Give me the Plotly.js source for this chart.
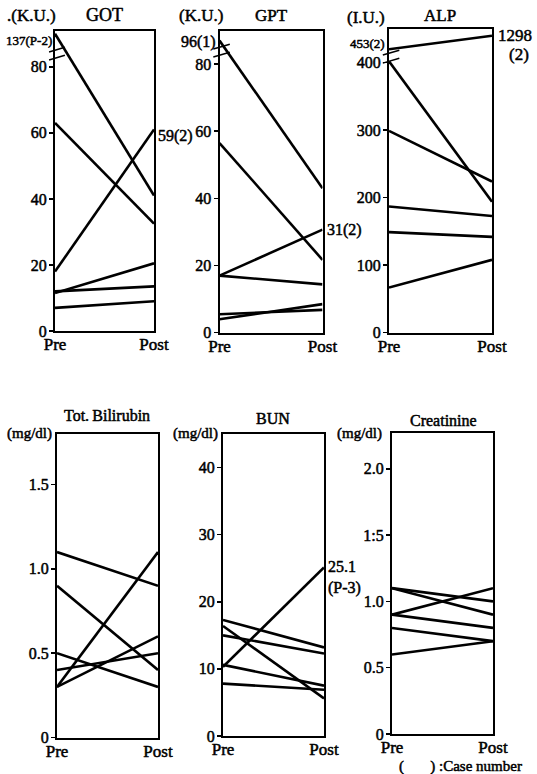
<!DOCTYPE html>
<html>
<head>
<meta charset="utf-8">
<script src="https://cdn.plot.ly/plotly-3.0.1.min.js"></script>
<style>
html,body{margin:0;padding:0;background:#fff}
#chart{width:537px;height:774px}
#chart svg text{stroke:#000;stroke-width:0.5px;stroke-linejoin:round}
</style>
</head>
<body>
<div id="chart"></div>
<script>
// ---- data ----
const stages = ["Pre", "Post"];
const gotPre  = [90, 63, 18, 11.5, 12, 7];
const gotPost = [41, 32.5, 61, 20.5, 13.5, 9];
const gptPre  = [87, 56.5, 17, 17, 5.5, 4];
const gptPost = [43, 21.7, 30.7, 14.4, 6.8, 8.5];
const alpPre  = [420, 402, 299, 187, 149, 67];
const alpPost = [440, 194, 224, 173, 142, 108];
const biliPre  = [1.1, 0.9, 0.3, 0.4, 0.5, 0.3];
const biliPost = [0.9, 0.4, 1.1, 0.5, 0.3, 0.6];
const bunPre  = [17.3, 16.4, 15, 10.3, 10.6, 7.8];
const bunPost = [13.2, 5.6, 12.3, 25.1, 7.5, 6.9];
const creatPre  = [1.1, 1.1, 0.9, 0.9, 0.8, 0.6];
const creatPost = [1.0, 0.9, 1.1, 0.8, 0.7, 0.7];

const gotTicks = [0, 20, 40, 60, 80];
const gptTicks = [0, 20, 40, 60, 80];
const alpTicks = [0, 100, 200, 300, 400];
const biliTicks = [0, 0.5, 1.0, 1.5];
const biliTickText = ["0", "0.5", "1.0", "1.5"];
const bunTicks = [0, 10, 20, 30, 40];
const creatTicks = [0, 0.5, 1.0, 1.5, 2.0];
const creatTickText = ["0", "0.5", "1.0", "1:5", "2.0"];
const breakAt = [84, 84, 409];   // axis-break marks on GOT, GPT, ALP

// ---- layout helpers ----
const W = 537, H = 774;
const px = x => x / W;
const py = y => 1 - y / H;
const FONT = "Liberation Serif";
const F = size => ({family: FONT, size: size, color: "#000"});

const panels = [
  {pre: gotPre,  post: gotPost,  range: [0, 91],   tv: gotTicks,  tt: gotTicks.map(String), xd: [55, 154],    yd: [30.5, 331]},
  {pre: gptPre,  post: gptPost,  range: [0, 90],   tv: gptTicks,  tt: gptTicks.map(String), xd: [219.5, 322.5], yd: [30.5, 332.7]},
  {pre: alpPre,  post: alpPost,  range: [0, 450],  tv: alpTicks,  tt: alpTicks.map(String), xd: [389, 492],   yd: [29, 332.7]},
  {pre: biliPre, post: biliPost, range: [0, 1.8],  tv: biliTicks, tt: biliTickText,        xd: [57, 158],    yd: [434, 737.5]},
  {pre: bunPre,  post: bunPost,  range: [0, 45],   tv: bunTicks,  tt: bunTicks.map(String), xd: [223, 324],   yd: [434, 736]},
  {pre: creatPre,post: creatPost,range: [0, 2.27], tv: creatTicks,tt: creatTickText,       xd: [392, 493],   yd: [433, 734]}
];

const data = [];
const layout = {
  width: W, height: H,
  margin: {l: 0, r: 0, t: 0, b: 0},
  paper_bgcolor: "#fff", plot_bgcolor: "#fff",
  showlegend: false,
  font: F(15),
  annotations: [],
  shapes: []
};

panels.forEach((p, i) => {
  const n = i + 1;
  const xa = "x" + (n === 1 ? "" : n), ya = "y" + (n === 1 ? "" : n);
  const xk = "xaxis" + (n === 1 ? "" : n), yk = "yaxis" + (n === 1 ? "" : n);
  p.pre.forEach((v, k) => {
    data.push({
      type: "scatter", mode: "lines",
      x: [0, 1], y: [v, p.post[k]],
      xaxis: xa, yaxis: ya,
      line: {color: "#000", width: 2.6},
      hoverinfo: "skip", cliponaxis: false
    });
  });
  layout[xk] = {
    domain: [px(p.xd[0]), px(p.xd[1])],
    anchor: ya, range: [0, 1], fixedrange: true,
    tickvals: [0, 1], ticktext: stages, ticks: "", ticklen: 0,
    ticklabelstandoff: -3,
    tickfont: F(17),
    showgrid: false, zeroline: false,
    showline: true, mirror: true, linecolor: "#000", linewidth: 2
  };
  layout[yk] = {
    domain: [py(p.yd[1]), py(p.yd[0])],
    anchor: xa, range: p.range, fixedrange: true,
    tickvals: p.tv, ticktext: p.tt, ticks: "outside", ticklen: 4, tickwidth: 1.5, tickcolor: "#000",
    ticklabelstandoff: -1,
    tickfont: F(16),
    showgrid: false, zeroline: false,
    showline: true, mirror: true, linecolor: "#000", linewidth: 2
  };
});

function txt(text, x, y, font, opts) {
  layout.annotations.push(Object.assign({
    text: text, x: px(x), y: py(y), xref: "paper", yref: "paper",
    showarrow: false, xanchor: "center", yanchor: "middle",
    font: font || F(15)
  }, opts || {}));
}
// titles
txt("GOT", 104, 15, F(18));
txt("GPT", 271, 15, F(17));
txt("ALP", 440, 15, F(17));
txt("Tot.\u2009Bilirubin", 107, 415, F(16));
txt("BUN", 273, 418, F(16));
txt("Creatinine", 443, 420, F(16));
// units
txt(".(K.U.)", 31, 16, F(17));
txt("(K.U.)", 201, 16, F(17));
txt("(I.U.)", 366, 17, F(17));
txt("(mg/dl)", 30, 434, F(15));
txt("(mg/dl)", 195, 434, F(15));
txt("(mg/dl)", 359, 434, F(15));
// off-scale labels
txt("137(P-2)", 29, 41, F(13));
txt("96(1)", 198, 42, F(16));
txt("453(2)", 367, 43, F(13));
txt("1298", 515, 36, F(17));
txt("(2)", 519, 54, F(17));
// end-value labels tied to data
layout.annotations.push({text: "59(2)", x: 1, y: gotPost[2] - 2, xref: "x", yref: "y", xanchor: "left", yanchor: "middle", xshift: 2, showarrow: false, font: F(16)});
layout.annotations.push({text: "31(2)", x: 1, y: gptPost[2], xref: "x2", yref: "y2", xanchor: "left", yanchor: "middle", xshift: 2, showarrow: false, font: F(16)});
layout.annotations.push({text: "25.1<br>(P-3)", x: 1, y: bunPost[3], xref: "x5", yref: "y5", xanchor: "left", yanchor: "top", xshift: 2, yshift: 12, align: "left", showarrow: false, font: F(16)});
// axis break marks (two short slanted strokes across the left axis)
[["x", "y", breakAt[0], 1.2], ["x2", "y2", breakAt[1], 1.2], ["x3", "y3", breakAt[2], 6]].forEach(b => {
  [-1, 1].forEach(s => {
    layout.shapes.push({type: "line", xref: b[0] + " domain", yref: b[1],
      x0: -0.06, x1: 0.1, y0: b[2] + s * b[3] - b[3] * 0.6, y1: b[2] + s * b[3] + b[3] * 0.6,
      line: {color: "#000", width: 1.5}});
  });
});
// footnote
txt("(&nbsp;&nbsp;&nbsp;&nbsp;&nbsp;&nbsp;&nbsp;) :Case number", 460, 766, F(15));

Plotly.newPlot("chart", data, layout, {staticPlot: true, displayModeBar: false});
</script>
</body>
</html>
